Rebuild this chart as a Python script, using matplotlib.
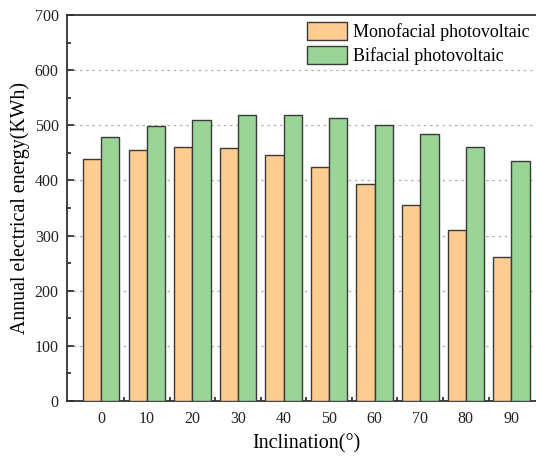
import numpy as np
import matplotlib
matplotlib.use('Agg')
import matplotlib.pyplot as plt
from matplotlib.ticker import MultipleLocator, FixedLocator

plt.rcParams['font.family'] = ['Liberation Serif', 'DejaVu Serif']

# annual energy per tilt angle
inclination = [0, 10, 20, 30, 40, 50, 60, 70, 80, 90]
monofacial = [438, 455, 461, 458, 446, 424, 393, 355, 310, 261]
bifacial = [479, 498, 510, 518, 519, 513, 501, 484, 461, 435]

fig = plt.figure(figsize=(5.36, 4.59), dpi=100)
ax = fig.add_axes([67 / 536, 58 / 459, 0.893, 386 / 459])

x = np.arange(len(inclination))
w = 0.4
ax.bar(x - w / 2, monofacial, w, color='#FECB91', edgecolor='#3a3a3a', lw=1,
       label='Monofacial photovoltaic', zorder=3)
ax.bar(x + w / 2, bifacial, w, color='#9AD497', edgecolor='#3a3a3a', lw=1,
       label='Bifacial photovoltaic', zorder=3)

ax.set_xlim(-0.75, 9.75)
ax.set_ylim(0, 700)
ax.set_xticks(x)
ax.set_xticklabels([str(v) for v in inclination])
ax.xaxis.set_minor_locator(FixedLocator(x[:-1] + 0.5))
ax.yaxis.set_major_locator(MultipleLocator(100))
ax.yaxis.set_minor_locator(MultipleLocator(50))
ax.tick_params(which='both', direction='in', labelsize=11.5, width=1.2, colors='#222222')
ax.tick_params(which='major', length=5)
ax.tick_params(which='minor', length=3)
ax.tick_params(axis='x', which='major', length=0, pad=7)
ax.tick_params(axis='y', pad=6)

for s in ax.spines.values():
    s.set_linewidth(1.3)
    s.set_color('#333333')

for v in range(100, 700, 100):
    ax.axhline(v, color='#b0b0b0', lw=0.9, ls=(0, (2, 3)), zorder=1)

ax.set_xlabel('Inclination(°)', fontsize=14.5, labelpad=5)
ax.set_ylabel('Annual electrical energy(KWh)', fontsize=14.3, labelpad=3)

ax.legend(loc='upper left', bbox_to_anchor=(307 / 536, 1 - 22 / 459),
          bbox_transform=fig.transFigure, frameon=False, fontsize=13,
          borderpad=0, borderaxespad=0, handlelength=2.2, handleheight=1.15,
          handletextpad=0.33, labelspacing=0.25)

fig.savefig('out.png', dpi=100)
